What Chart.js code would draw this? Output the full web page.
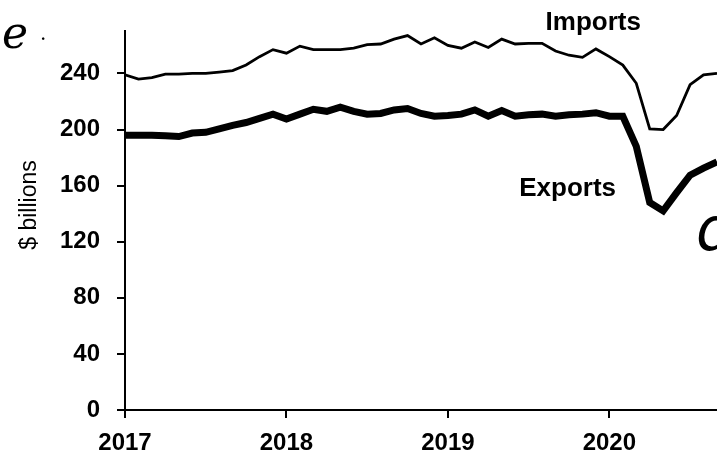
<!DOCTYPE html>
<html>
<head>
<meta charset="utf-8">
<script src="https://cdn.jsdelivr.net/npm/chart.js@4"></script>
<style>
  body { margin: 0; background: #fff; overflow: hidden; }
</style>
</head>
<body>
<canvas id="trade-chart" width="717" height="458"></canvas>
<script>
// monthly, Jan 2017 .. Sep 2020
const startYear = 2017;
const imports = [
    239, 236, 237, 239.5, 239.5, 240, 240, 241, 242, 246, 252, 257,
    254.5, 259.5, 257, 257, 257, 258, 260.5, 261, 264.5, 267, 261, 265.5,
    260, 258, 262.5, 258.5, 264.5, 261, 261.5, 261.5, 256, 253, 251.5, 257.5,
    252, 246, 233, 200.5, 200, 210, 232, 239, 240,
];
const exports = [
    196, 196, 196, 195.5, 195, 197.5, 198, 200.5, 203, 205, 208, 211,
    207.5, 211, 214.5, 213, 216, 213, 211, 211.5, 214, 215, 211.5, 209.5,
    210, 211, 214, 209.5, 213.5, 209.5, 210.5, 211, 209.5, 210.5, 211, 212,
    209.5, 209.5, 188, 148, 142, 155, 167.5, 172.5, 177,
];
const yTicks = [0, 40, 80, 120, 160, 200, 240];
const xTickYears = [2017, 2018, 2019, 2020];

const tickFont = { family: "Liberation Sans", size: 24, weight: "bold" };

const toPoints = (arr) => arr.map((v, i) => ({ x: i, y: v }));

// series names, axis title, handwritten margin marks
const labelPlugin = {
    id: "lineLabels",
    afterDraw(chart) {
        const ctx = chart.ctx;
        const x = chart.scales.x;
        const y = chart.scales.y;
        ctx.save();
        ctx.fillStyle = "#000";
        ctx.font = "bold 26px 'Liberation Sans'";
        ctx.textAlign = "center";
        ctx.textBaseline = "middle";
        ctx.fillText("Imports", x.getPixelForValue(34.8), y.getPixelForValue(276));
        ctx.fillText("Exports", x.getPixelForValue(32.9), y.getPixelForValue(158));

        // y title sits a bit above the axis middle in the original
        ctx.save();
        ctx.translate(30, 205);
        ctx.rotate(-Math.PI / 2);
        ctx.font = "23px 'Liberation Sans'";
        ctx.fillText("$ billions", 0, 0);
        ctx.restore();

        ctx.textAlign = "left";
        ctx.textBaseline = "alphabetic";
        ctx.font = "italic 44px 'DejaVu Serif'";
        ctx.fillText("e", 2, 48);
        ctx.font = "20px 'DejaVu Serif'";
        ctx.fillText(".", 40, 40);
        ctx.font = "italic 200 60px 'DejaVu Sans'";
        ctx.fillText("d", 696, 250);
        ctx.restore();
    },
};

new Chart(document.getElementById("trade-chart"), {
    type: "line",
    data: {
        datasets: [
            {
                label: "Imports",
                data: toPoints(imports),
                borderColor: "#000",
                borderWidth: 2.8,
                pointRadius: 0,
                tension: 0,
            },
            {
                label: "Exports",
                data: toPoints(exports),
                borderColor: "#000",
                borderWidth: 7,
                pointRadius: 0,
                tension: 0,
            },
        ],
    },
    options: {
        responsive: false,
        animation: false,
        devicePixelRatio: 1,
        layout: { padding: { top: 27, right: 0, left: 0, bottom: 0 } },
        plugins: {
            legend: { display: false },
            tooltip: { enabled: false },
        },
        scales: {
            x: {
                type: "linear",
                min: 0,
                max: 44,
                afterBuildTicks: (scale) => {
                    scale.ticks = xTickYears.map((yr) => ({ value: (yr - startYear) * 12 }));
                },
                afterFit: (scale) => {
                    scale.height = 48;
                },
                ticks: {
                    color: "#000",
                    font: { family: "Liberation Sans", size: 24, weight: "bold" },
                    padding: 11,
                    maxRotation: 0,
                    callback: (v) => startYear + v / 12,
                },
                grid: {
                    drawOnChartArea: false,
                    color: "#000",
                    lineWidth: 2,
                    tickLength: 8,
                },
                border: { display: true, color: "#000", width: 2 },
            },
            y: {
                min: 0,
                max: 270,
                afterBuildTicks: (scale) => {
                    scale.ticks = yTicks.map((v) => ({ value: v }));
                },
                afterFit: (scale) => {
                    scale.width = 125;
                },
                ticks: {
                    color: "#000",
                    font: tickFont,
                    padding: 17,
                },
                grid: {
                    drawOnChartArea: false,
                    color: "#000",
                    lineWidth: 2,
                    tickLength: 8,
                },
                border: { display: true, color: "#000", width: 2 },
            },
        },
    },
    plugins: [labelPlugin],
});
</script>
</body>
</html>
